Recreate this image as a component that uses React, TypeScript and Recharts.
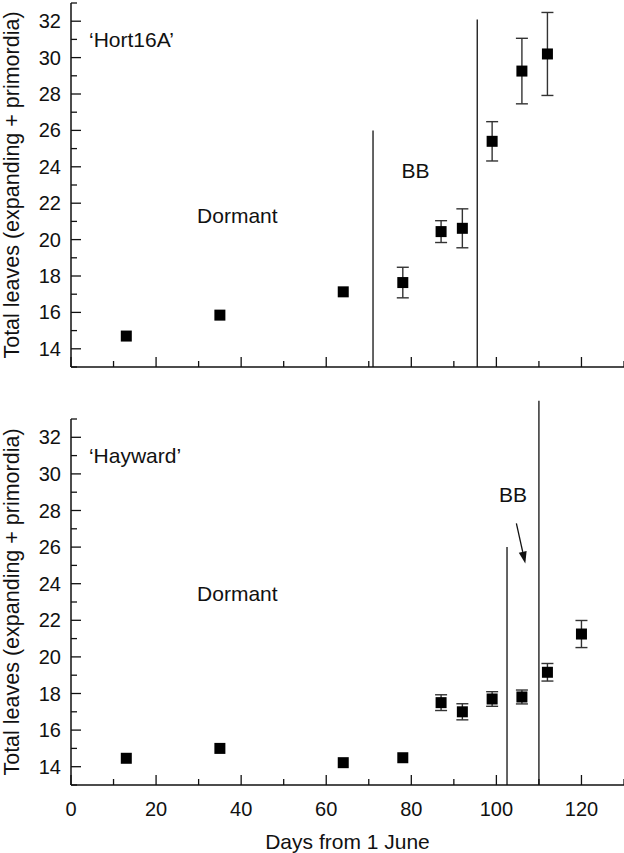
import { ErrorBar, ReferenceDot, ReferenceLine, Scatter, ScatterChart, XAxis, YAxis } from 'recharts'

const hortDays = [13, 35, 64, 78, 87, 92, 99, 106, 112]
const hortLeaves = [14.7, 15.85, 17.13, 17.64, 20.44, 20.62, 25.4, 29.26, 30.2]
const hortErr = [0, 0, 0, 0.84, 0.6, 1.07, 1.08, 1.8, 2.28]

const haywardDays = [13, 35, 64, 78, 87, 92, 99, 106, 112, 120]
const haywardLeaves = [14.46, 15.0, 14.22, 14.49, 17.5, 17.0, 17.7, 17.81, 19.16, 21.25]
const haywardErr = [0, 0, 0, 0, 0.43, 0.44, 0.4, 0.38, 0.48, 0.74]

const xTicks = [0, 10, 20, 30, 40, 50, 60, 70, 80, 90, 100, 110, 120, 130]
const yTicks = [13, 14, 15, 16, 17, 18, 19, 20, 21, 22, 23, 24, 25, 26, 27, 28, 29, 30, 31, 32, 33]

const hortData = hortDays.map((d, i) => ({ day: d, leaves: hortLeaves[i], err: hortErr[i] }))
const haywardData = haywardDays.map((d, i) => ({ day: d, leaves: haywardLeaves[i], err: haywardErr[i] }))

const FONT = '"Liberation Sans", Arial, Helvetica, sans-serif'
const INK = '#111'

function XTick(props: any) {
  const { x, y, payload, showLabel } = props
  const major = payload.value % 20 === 0
  return (
    <g>
      <line x1={x} x2={x} y1={y} y2={y - (major ? 10 : 6)} stroke={INK} strokeWidth={1.3} />
      {showLabel && major && (
        <text x={x} y={y + 24} textAnchor="middle" dominantBaseline="central" fontSize={20} fill={INK} fontFamily={FONT}>
          {payload.value}
        </text>
      )}
    </g>
  )
}

function YTick(props: any) {
  const { x, y, payload } = props
  const major = payload.value % 2 === 0
  return (
    <g>
      <line x1={x} x2={x + (major ? 10 : 6)} y1={y} y2={y} stroke={INK} strokeWidth={1.3} />
      {major && payload.value !== 13 && payload.value !== 33 && (
        <text x={x - 10} y={y} textAnchor="end" dominantBaseline="central" fontSize={20} fill={INK} fontFamily={FONT}>
          {payload.value}
        </text>
      )}
    </g>
  )
}

const squareShape = (props: any) => {
  const { cx, cy } = props
  return <rect x={cx - 5.5} y={cy - 5.5} width={11} height={11} fill="#000" />
}

const arrowShape = (props: any) => {
  const { x1, y1, x2, y2 } = props
  const ang = Math.atan2(y2 - y1, x2 - x1)
  const len = 12
  const half = 4
  const bx = x2 - len * Math.cos(ang)
  const by = y2 - len * Math.sin(ang)
  const px = -Math.sin(ang) * half
  const py = Math.cos(ang) * half
  return (
    <g>
      <line x1={x1} y1={y1} x2={bx} y2={by} stroke={INK} strokeWidth={1.3} />
      <polygon points={`${x2},${y2} ${bx + px},${by + py} ${bx - px},${by - py}`} fill={INK} />
    </g>
  )
}

const textLabel = (value: string) => ({
  value,
  position: 'center' as const,
  fontSize: 21,
  fill: INK,
  fontFamily: FONT,
})

function Panel({
  data,
  height,
  top,
  bottom,
  showXLabels,
  children,
}: {
  data: { day: number; leaves: number; err: number }[]
  height: number
  top: number
  bottom: number
  showXLabels: boolean
  children: any
}) {
  return (
    <ScatterChart width={624} height={height} margin={{ top, right: 0, bottom: 0, left: 0 }} style={{ fontFamily: FONT }}>
      <XAxis
        type="number"
        dataKey="day"
        domain={[0, 130]}
        ticks={xTicks}
        interval={0}
        tickSize={0}
        tickMargin={0}
        tickLine={false}
        height={bottom}
        axisLine={{ stroke: INK, strokeWidth: 1.5 }}
        tick={<XTick showLabel={showXLabels} />}
        label={
          showXLabels
            ? { value: 'Days from 1 June', position: 'insideBottom', offset: 4, fontSize: 21, fill: INK, fontFamily: FONT }
            : undefined
        }
      />
      <YAxis
        type="number"
        dataKey="leaves"
        domain={[13, 33]}
        ticks={yTicks}
        interval={0}
        width={71}
        tickSize={0}
        tickMargin={0}
        tickLine={false}
        axisLine={{ stroke: INK, strokeWidth: 1.5 }}
        tick={<YTick />}
        label={{
          value: 'Total leaves (expanding + primordia)',
          angle: -90,
          position: 'insideLeft',
          offset: 11,
          fontSize: 21.5,
          fill: INK,
          fontFamily: FONT,
          style: { textAnchor: 'middle' },
        }}
      />
      {children}
      <Scatter data={data} shape={squareShape} isAnimationActive={false}>
        <ErrorBar dataKey="err" direction="y" width={6} stroke="#333" strokeWidth={1.4} />
      </Scatter>
    </ScatterChart>
  )
}

export default function App() {
  return (
    <div style={{ position: 'absolute', left: 0, top: 0, width: 624, height: 853, background: '#fff' }}>
      <Panel data={hortData} height={380} top={3} bottom={13} showXLabels={false}>
        <ReferenceLine segment={[{ x: 71, y: 13 }, { x: 71, y: 26 }]} stroke={INK} strokeWidth={1.3} ifOverflow="visible" />
        <ReferenceLine segment={[{ x: 95.5, y: 13 }, { x: 95.5, y: 32.1 }]} stroke={INK} strokeWidth={1.3} ifOverflow="visible" />
        <ReferenceDot x={14.2} y={31} r={0} stroke="none" fill="none" label={textLabel('\u2018Hort16A\u2019')} />
        <ReferenceDot x={39.1} y={21.3} r={0} stroke="none" fill="none" label={textLabel('Dormant')} />
        <ReferenceDot x={81} y={23.77} r={0} stroke="none" fill="none" label={textLabel('BB')} />
      </Panel>
      <Panel data={haywardData} height={473} top={39} bottom={68} showXLabels>
        <ReferenceLine segment={[{ x: 102.5, y: 13 }, { x: 102.5, y: 26 }]} stroke={INK} strokeWidth={1.3} ifOverflow="visible" />
        <ReferenceLine segment={[{ x: 110, y: 13 }, { x: 110, y: 34 }]} stroke={INK} strokeWidth={1.3} ifOverflow="visible" />
        <ReferenceLine
          segment={[{ x: 104.7, y: 27.3 }, { x: 106.8, y: 25.1 }]}
          ifOverflow="visible"
          shape={arrowShape}
        />
        <ReferenceDot x={15.05} y={31} r={0} stroke="none" fill="none" label={textLabel('\u2018Hayward\u2019')} />
        <ReferenceDot x={39.1} y={23.48} r={0} stroke="none" fill="none" label={textLabel('Dormant')} />
        <ReferenceDot x={103.9} y={28.85} r={0} stroke="none" fill="none" label={textLabel('BB')} />
      </Panel>
    </div>
  )
}
